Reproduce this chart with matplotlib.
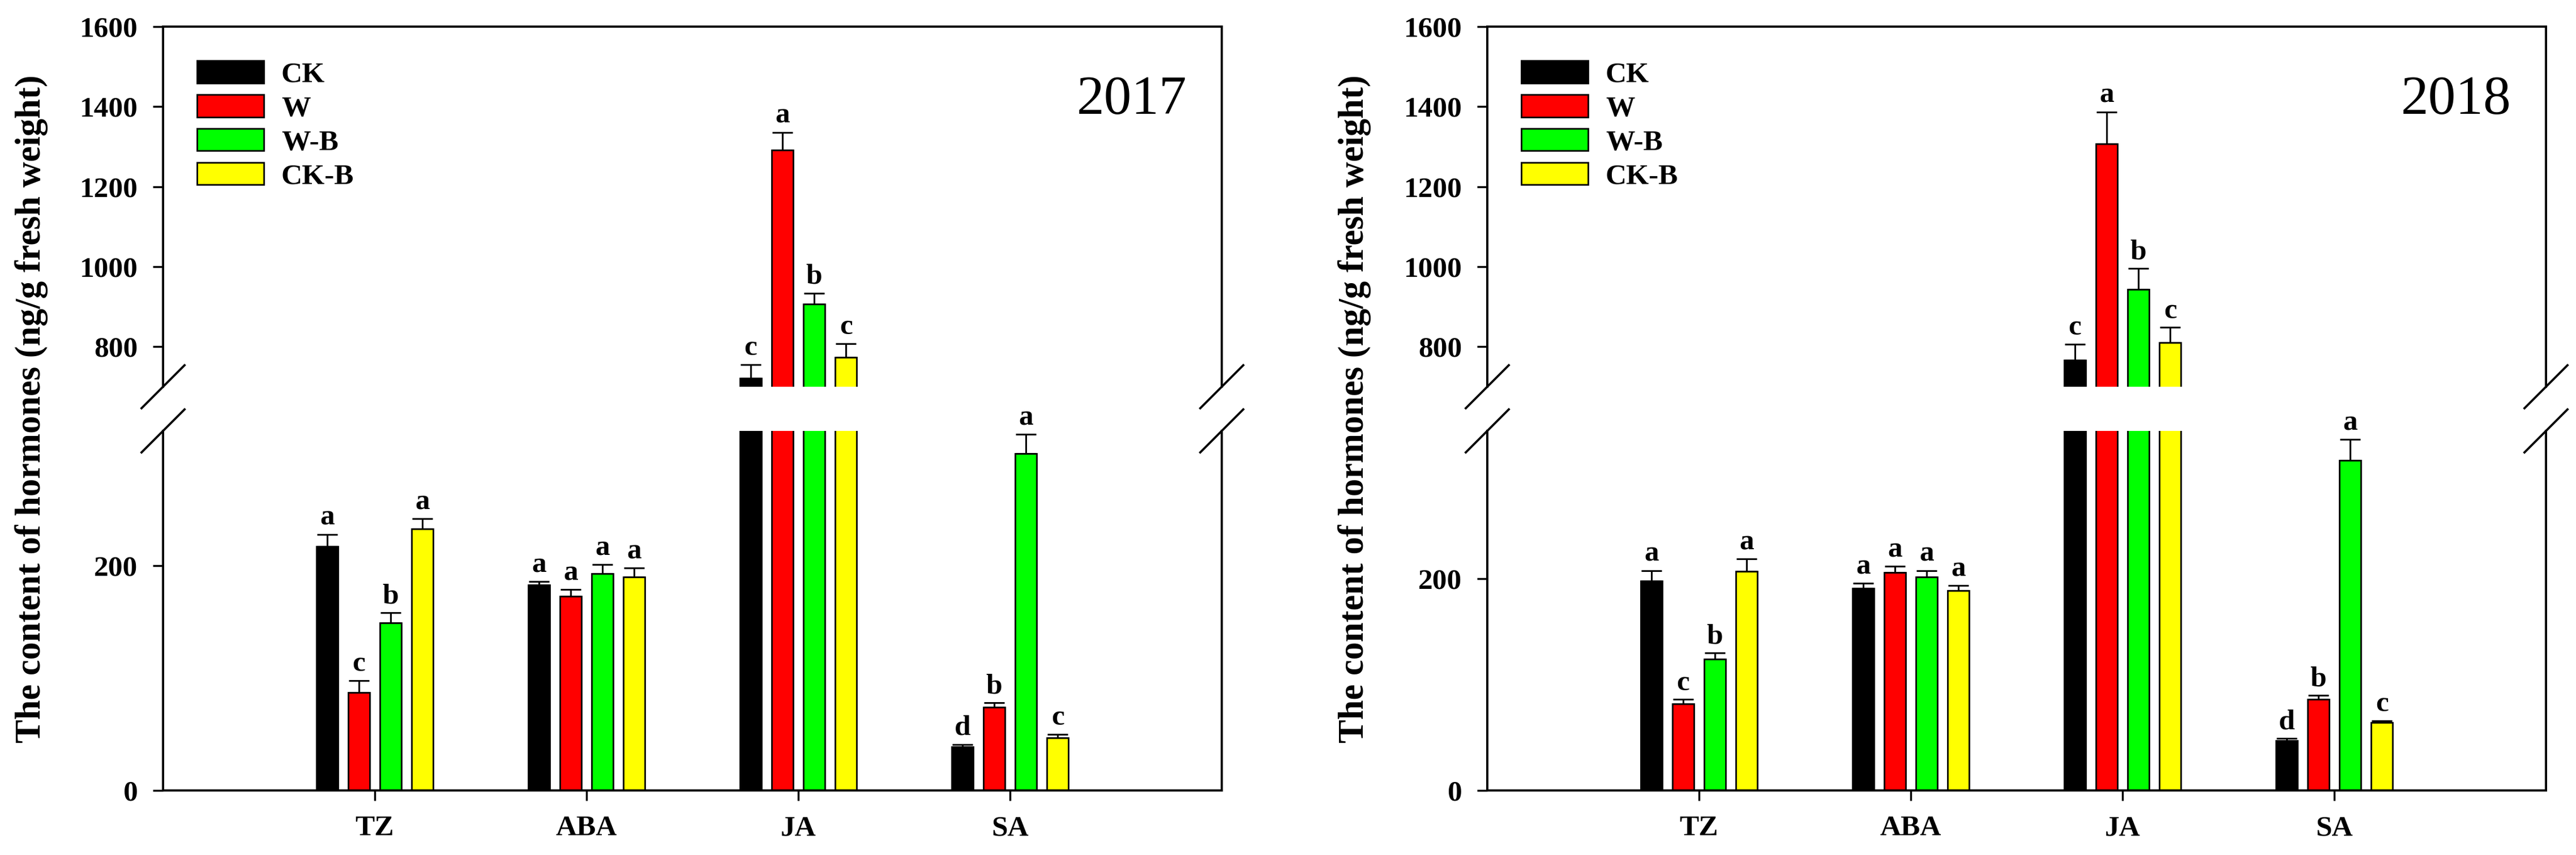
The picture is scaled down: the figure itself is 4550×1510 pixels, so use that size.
import numpy as np
import matplotlib.pyplot as plt
from matplotlib.patches import Patch

plt.rcParams['font.family'] = ['Liberation Serif', 'DejaVu Serif']
plt.rcParams['font.weight'] = 'bold'
plt.rcParams['axes.linewidth'] = 2.8

hormones = ['TZ', 'ABA', 'JA', 'SA']
treatments = ['CK', 'W', 'W-B', 'CK-B']
colors = ['#000000', '#ff0000', '#00ff00', '#ffff00']

# rows = treatments (CK, W, W-B, CK-B), columns = hormones (TZ, ABA, JA, SA)
mean_2017 = [[217, 183, 721, 39],
             [87, 173, 1292, 74],
             [149, 193, 906, 300],
             [233, 190, 774, 47]]
err_2017 = [[11, 3, 34, 2],
            [11, 6, 44, 4],
            [9, 8, 28, 17],
            [9, 8, 34, 3]]
letters_2017 = [['a', 'a', 'c', 'd'],
                ['c', 'a', 'a', 'b'],
                ['b', 'a', 'b', 'a'],
                ['a', 'a', 'c', 'c']]

mean_2018 = [[198, 191, 767, 47],
             [82, 206, 1307, 86],
             [124, 202, 943, 312],
             [207, 189, 810, 64]]
err_2018 = [[10, 5, 39, 2],
            [4, 6, 80, 4],
            [6, 6, 53, 20],
            [12, 5, 38, 2]]
letters_2018 = [['a', 'a', 'c', 'd'],
                ['c', 'a', 'a', 'b'],
                ['b', 'a', 'b', 'a'],
                ['a', 'a', 'c', 'c']]

ylabel = 'The content of hormones (ng/g fresh weight)'

FIG_W, FIG_H = 4550, 1510
fig = plt.figure(figsize=(FIG_W / 100, FIG_H / 100), dpi=100)

AX_W = 1870 / FIG_W
HI_BOTTOM, HI_H = 1 - 683 / FIG_H, (683 - 47) / FIG_H
LO_BOTTOM, LO_H = 1 - 1396 / FIG_H, (1396 - 761) / FIG_H


def style_axis(ax):
    ax.tick_params(axis='both', direction='out', length=13, width=2.5,
                   labelsize=37, pad=19, right=False, top=False)
    for lab in ax.get_yticklabels() + ax.get_xticklabels():
        lab.set_fontweight('bold')


def draw_panel(x0_px, year, means, errs, letters, low_top, ylabel_x_px):
    x0 = x0_px / FIG_W
    ax_hi = fig.add_axes([x0, HI_BOTTOM, AX_W, HI_H])
    ax_lo = fig.add_axes([x0, LO_BOTTOM, AX_W, LO_H])

    x = np.arange(1, len(hormones) + 1)
    width = 0.1
    step = 0.15

    for i in range(len(treatments)):
        pos = x + (i - 1.5) * step
        m = np.array(means[i])
        e = np.array(errs[i])
        for ax in (ax_hi, ax_lo):
            ax.bar(pos, m, width, color=colors[i], edgecolor='black',
                   linewidth=2, zorder=2)
            ax.errorbar(pos, m, yerr=[np.zeros_like(e), e], fmt='none',
                        ecolor='black', elinewidth=2.2, capsize=13,
                        capthick=2.2, zorder=3)
        for p, mv, ev, lt in zip(pos, m, e, letters[i]):
            ax = ax_hi if mv > 700 else ax_lo
            ax.annotate(lt, (p, mv + ev), xytext=(0, 12),
                        textcoords='offset points', ha='center',
                        va='baseline', fontsize=37, fontweight='bold')

    for ax in (ax_hi, ax_lo):
        ax.set_xlim(0, 5)

    ax_hi.set_ylim(700, 1600)
    ax_hi.set_yticks(range(800, 1601, 200))
    ax_hi.spines['bottom'].set_visible(False)
    ax_hi.tick_params(axis='x', bottom=False, labelbottom=False)

    ax_lo.set_ylim(0, low_top)
    ax_lo.set_yticks([0, 200])
    ax_lo.set_xticks(x, hormones)
    ax_lo.spines['top'].set_visible(False)

    style_axis(ax_hi)
    style_axis(ax_lo)
    ax_hi.tick_params(axis='x', bottom=False)

    # break marks on both spines
    dx = 38 / 1870
    for ax, yb, h_px in ((ax_hi, 0, 636), (ax_lo, 1, 635)):
        dy = 38 / h_px
        for xb in (0, 1):
            ax.plot([xb - dx, xb + dx], [yb - dy, yb + dy],
                    transform=ax.transAxes, color='black', lw=2.8,
                    clip_on=False, zorder=5)

    handles = [Patch(facecolor=c, edgecolor='black', linewidth=2, label=t)
               for c, t in zip(colors, treatments)]
    ax_hi.legend(handles=handles, loc='upper left',
                 bbox_to_anchor=(0.032, 0.905), frameon=False,
                 borderaxespad=0, borderpad=0, handlelength=2.3,
                 handleheight=0.8, labelspacing=0.22, handletextpad=0.6,
                 prop={'size': 37, 'weight': 'bold'})

    ax_hi.text(0.967, 0.758, year, transform=ax_hi.transAxes, ha='right',
               va='baseline', fontsize=70, fontweight='normal')

    fig.text(ylabel_x_px / FIG_W, 1 - 722 / FIG_H, ylabel, rotation=90,
             ha='center', va='center', fontsize=45, fontweight='bold')


draw_panel(288, '2017', mean_2017, err_2017, letters_2017, 320, 56)
draw_panel(2627, '2018', mean_2018, err_2018, letters_2018, 340, 2392)

fig.savefig('out.png', dpi=100)
